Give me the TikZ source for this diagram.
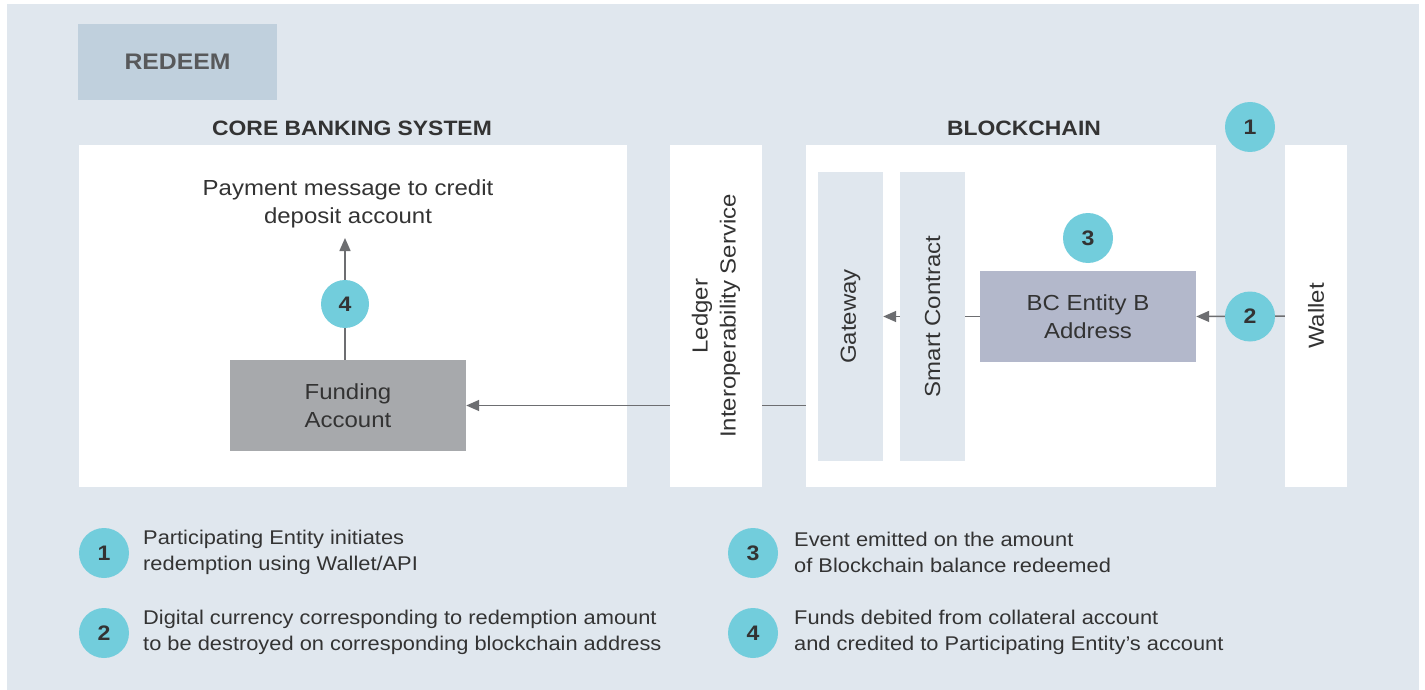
\documentclass[tikz,border=0pt]{standalone}
\usepackage{fontspec}
\setmainfont{Liberation Sans}[FakeStretch=1.1]
\usetikzlibrary{arrows.meta}
\definecolor{bgc}{HTML}{E0E7EE}
\definecolor{redeemc}{HTML}{C0D0DD}
\definecolor{fundc}{HTML}{A7A9AC}
\definecolor{bcec}{HTML}{B3B8CB}
\definecolor{numc}{HTML}{72CDDC}
\definecolor{txtc}{HTML}{333333}
\definecolor{ttlc}{HTML}{58595B}
\definecolor{linec}{HTML}{6D6E71}
\tikzset{
  panel/.style={fill=white, draw=none, inner sep=0pt},
  inner/.style={fill=bgc, draw=none, inner sep=0pt},
  lbl/.style={text=txtc, font=\fontsize{21.8}{28}\selectfont, align=center, inner sep=0pt},
  num/.style={circle, fill=numc, minimum size=50pt, inner sep=0pt, text=txtc, font=\fontsize{21}{24}\selectfont\bfseries},
  lnum/.style={circle, fill=numc, minimum size=50pt, inner sep=0pt, text=txtc, font=\fontsize{21}{24}\selectfont\bfseries},
  legtxt/.style={text=txtc, font=\fontsize{19.85}{26}\selectfont, align=left, inner sep=0pt, anchor=west},
  conn/.style={draw=linec, line width=1.5pt},
  arr/.style={conn, -{Triangle[length=13pt,width=11pt]}},
  ttl/.style={text=txtc, font=\fontsize{20.8}{24}\selectfont\bfseries, inner sep=0pt}
}
\begin{document}
\begin{tikzpicture}[x=1pt,y=-1pt]
\useasboundingbox (0,0) rectangle (1425,690);
\fill[bgc] (7,4) rectangle (1419,690);
% REDEEM label
\node[fill=redeemc, minimum width=199pt, minimum height=76pt, inner sep=0pt, text=ttlc, font=\fontsize{22.5}{24}\selectfont\bfseries] (redeem) at (177.5,62) {REDEEM};
% titles
\node[ttl] (cbst) at (352,128) {CORE BANKING SYSTEM};
\node[ttl] (bct) at (1024,128) {BLOCKCHAIN};
% panels
\node[panel, minimum width=548pt, minimum height=342pt] (cbs) at (353,316) {};
\node[panel, minimum width=92pt, minimum height=342pt] (lis) at (716,316) {};
\node[panel, minimum width=410pt, minimum height=342pt] (bc) at (1011,316) {};
\node[panel, minimum width=62pt, minimum height=342pt] (wallet) at (1316,316) {};
\node[inner, minimum width=65pt, minimum height=289pt] (gw) at (850.5,316.5) {};
\node[inner, minimum width=65pt, minimum height=289pt] (sc) at (932.5,316.5) {};
\node[fill=bcec, minimum width=216pt, minimum height=91pt, inner sep=0pt] (bce) at (1088,316.5) {};
\node[fill=fundc, minimum width=236pt, minimum height=91pt, inner sep=0pt] (fund) at (348,405.5) {};
% texts
\node[lbl] (lisl) at (lis.center) [rotate=90] {Ledger\\Interoperability Service};
\node[lbl] (gwl) at (gw.center) [rotate=90] {Gateway};
\node[lbl] (scl) at (sc.center) [rotate=90] {Smart Contract};
\node[lbl] (wl) at (wallet.center) [rotate=90] {Wallet};
\node[lbl] (bcel) at (bce.center) {BC Entity B\\Address};
\node[lbl] (fundl) at (fund.center) {Funding\\Account};
\node[lbl] (msg) at (348,204) {Payment message to credit\\deposit account};
\coordinate (tip) at (345,238);
% connectors
\draw[conn] (bc.west |- fund.east) -- (lis.east |- fund.east);
\draw[arr] (lis.west |- fund.east) -- (fund.east);
\draw[conn] (bce.west) -- (sc.east);
\draw[arr] (sc.west) -- (gw.east);
\draw[arr] (wallet.west) -- (bce.east);
\draw[arr] (tip |- fund.north) -- (tip);
% number circles
\node[num] (n1) at (1250,127) {1};
\node[num] (n2) at (1250,316.5) {2};
\node[num] (n3) at (1088,238) {3};
\node[num, minimum size=48pt] (n4) at (345,304) {4};
% legend
\node[lnum] (l1) at (104,553) {1};
\node[lnum] (l2) at (104,633) {2};
\node[lnum] (l3) at (753,553) {3};
\node[lnum] (l4) at (753,633) {4};
\node[legtxt] (t1) at (143,552) {Participating Entity initiates\\redemption using Wallet/API};
\node[legtxt] (t2) at (143,632) {Digital currency corresponding to redemption amount\\to be destroyed on corresponding blockchain address};
\node[legtxt] (t3) at (794,552) {Event emitted on the amount\\of Blockchain balance redeemed};
\node[legtxt] (t4) at (794,632) {Funds debited from collateral account\\and credited to Participating Entity’s account};
\end{tikzpicture}
\end{document}
